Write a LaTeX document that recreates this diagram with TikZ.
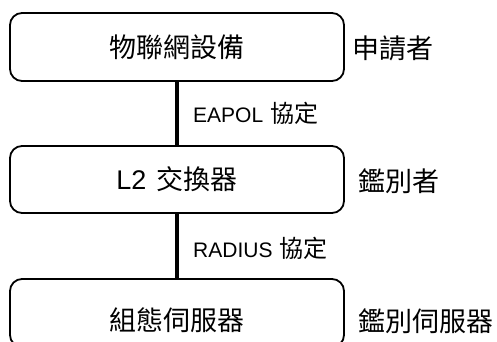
\documentclass[tikz,border=0pt]{standalone}
\usepackage{fontspec}
\setmainfont{Liberation Sans}
\newfontfamily\cjk{Noto Sans CJK TC}
\begin{document}
\begin{tikzpicture}[x=1pt,y=1pt,
  devbox/.style={draw=black,line width=1.8pt,rounded corners=12pt,minimum width=334pt,inner sep=0pt,font=\fontsize{27}{31}\selectfont},
  link/.style={line width=4pt},
  proto/.style={anchor=west,inner sep=0pt,font=\fontsize{21}{25}\selectfont},
  role/.style={anchor=west,inner sep=0pt,font=\fontsize{27}{31}\selectfont\cjk}]
\useasboundingbox (0,0) rectangle (497,341);
\node[devbox,minimum height=68pt] (b1) at (177,294) {\cjk 物聯網設備};
\node[devbox,minimum height=67pt] (b2) at (177,161.5) {L2\hspace{10pt}{\cjk 交換器}};
\node[devbox,minimum height=68pt] (b3) at (177,28) {};
\node[inner sep=0pt,font=\fontsize{27}{31}\selectfont\cjk] (t3) at (177,21) {組態伺服器};
\draw[link] (b1.south) -- (b2.north);
\draw[link] (b2.south) -- (b3.north);
\node[proto] (p1) at (193,228) {EAPOL\hspace{7pt}{\cjk\fontsize{24}{28}\selectfont 協定}};
\node[proto] (p2) at (193,93) {RADIUS\hspace{7pt}{\cjk\fontsize{24}{28}\selectfont 協定}};
\node[role] (r1) at (352,293) {申請者};
\node[role] (r2) at (358,160) {鑑別者};
\node[role] (r3) at (358,20) {鑑別伺服器};
\end{tikzpicture}
\end{document}
